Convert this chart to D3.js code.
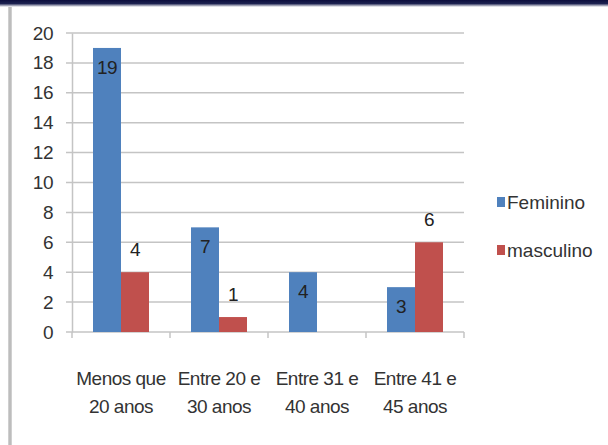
<!DOCTYPE html>
<html>
<head>
<meta charset="utf-8">
<script src="https://cdn.jsdelivr.net/npm/d3@7"></script>
<style>
  html, body { margin: 0; padding: 0; background: #fff; }
  svg { display: block; }
</style>
</head>
<body>
<svg id="chart" width="608" height="445"></svg>
<script>
// chart data
const categories = ["Menos que\n20 anos", "Entre 20 e\n30 anos", "Entre 31 e\n40 anos", "Entre 41 e\n45 anos"];
const series = ["Feminino", "masculino"];
const feminino = [19, 7, 4, 3];
const masculino = [4, 1, null, 6];
const yTicks = [0, 2, 4, 6, 8, 10, 12, 14, 16, 18, 20];

const colors = { Feminino: "#4f81bd", masculino: "#c0504d" };
const FONT = "'Liberation Sans', Arial, sans-serif";
const FS = "19px";
const TEXT = "#333";

const svg = d3.select("#chart");
const W = 608, H = 445;

// frame: dark band on top, grey chart border on the left
const defs = svg.append("defs");
const grad = defs.append("linearGradient").attr("id", "topband")
  .attr("x1", 0).attr("y1", 0).attr("x2", 0).attr("y2", 1);
grad.append("stop").attr("offset", "0%").attr("stop-color", "#0b0d3d");
grad.append("stop").attr("offset", "50%").attr("stop-color", "#1c2150");
grad.append("stop").attr("offset", "100%").attr("stop-color", "#ffffff");
svg.append("rect").attr("x", 8).attr("y", 4).attr("width", 4).attr("height", H - 4)
  .attr("fill", "#cfcfcf");
svg.append("rect").attr("x", 9).attr("y", 4).attr("width", 2).attr("height", H - 4)
  .attr("fill", "#bdbdbd");
svg.append("rect").attr("x", 0).attr("y", 0).attr("width", W).attr("height", 7)
  .attr("fill", "url(#topband)");

const plot = { left: 72, right: 464, top: 33, bottom: 332 };

const x = d3.scaleBand()
  .domain(categories)
  .range([plot.left, plot.right])
  .paddingInner(0)
  .paddingOuter(0);

const xs = d3.scaleBand()
  .domain(series)
  .range([0, x.bandwidth()])
  .paddingInner(0)
  .paddingOuter(0.75);

const y = d3.scaleLinear()
  .domain([0, 20])
  .range([plot.bottom, plot.top]);

// gridlines
svg.append("g")
  .selectAll("line")
  .data(yTicks)
  .join("line")
  .attr("x1", plot.left - 6)
  .attr("x2", plot.right)
  .attr("y1", d => y(d))
  .attr("y2", d => y(d))
  .attr("stroke", "#c4c4c4")
  .attr("stroke-width", 1.5);

// y axis
const yAxis = svg.append("g")
  .attr("transform", `translate(${plot.left},0)`)
  .call(d3.axisLeft(y).tickValues(yTicks).tickSize(0).tickPadding(19));
yAxis.select(".domain").attr("stroke", "#c4c4c4").attr("stroke-width", 1.5);
yAxis.selectAll("text")
  .style("font-family", FONT)
  .style("font-size", FS)
  .style("letter-spacing", "-0.5px")
  .attr("fill", TEXT);

// category boundary ticks
const bounds = categories.map(c => x(c)).concat([plot.right]);
svg.append("g")
  .selectAll("line")
  .data(bounds)
  .join("line")
  .attr("x1", d => d).attr("x2", d => d)
  .attr("y1", plot.bottom).attr("y2", plot.bottom + 6)
  .attr("stroke", "#c4c4c4")
  .attr("stroke-width", 1.5);

// bars
const rows = [];
categories.forEach((c, i) => {
  rows.push({ cat: c, s: "Feminino", v: feminino[i] });
  rows.push({ cat: c, s: "masculino", v: masculino[i] });
});
const shown = rows.filter(d => d.v != null);

svg.append("g")
  .selectAll("rect")
  .data(shown)
  .join("rect")
  .attr("x", d => x(d.cat) + xs(d.s))
  .attr("width", xs.bandwidth())
  .attr("y", d => y(d.v))
  .attr("height", d => y(0) - y(d.v))
  .attr("fill", d => colors[d.s]);

// data labels: inside for Feminino, above for masculino
svg.append("g")
  .selectAll("text")
  .data(shown)
  .join("text")
  .attr("x", d => x(d.cat) + xs(d.s) + xs.bandwidth() / 2)
  .attr("y", d => d.s === "Feminino" ? y(d.v) + 19 : y(d.v) - 23)
  .attr("dy", "0.35em")
  .attr("text-anchor", "middle")
  .style("font-family", FONT)
  .style("font-size", FS)
  .style("letter-spacing", "-0.5px")
  .attr("fill", "#222")
  .text(d => d.v);

// category labels
svg.append("g")
  .selectAll("text")
  .data(categories)
  .join("text")
  .attr("x", d => x(d) + x.bandwidth() / 2)
  .attr("y", 378)
  .attr("text-anchor", "middle")
  .style("font-family", FONT)
  .style("font-size", FS)
  .style("letter-spacing", "-0.5px")
  .attr("fill", TEXT)
  .each(function (d) {
    const t = d3.select(this);
    d.split("\n").forEach((line, i) => {
      t.append("tspan")
        .attr("x", x(d) + x.bandwidth() / 2)
        .attr("dy", i === 0 ? "0.35em" : "28px")
        .text(line);
    });
  });

// legend
const legend = svg.append("g")
  .selectAll("g")
  .data(series)
  .join("g")
  .attr("transform", (d, i) => `translate(497,${197 + i * 48})`);
legend.append("rect")
  .attr("width", 8).attr("height", 10)
  .attr("fill", d => colors[d]);
legend.append("text")
  .attr("x", 10).attr("y", 5)
  .attr("dy", "0.35em")
  .style("font-family", FONT)
  .style("font-size", FS)
  .attr("fill", TEXT)
  .text(d => d);
</script>
</body>
</html>
